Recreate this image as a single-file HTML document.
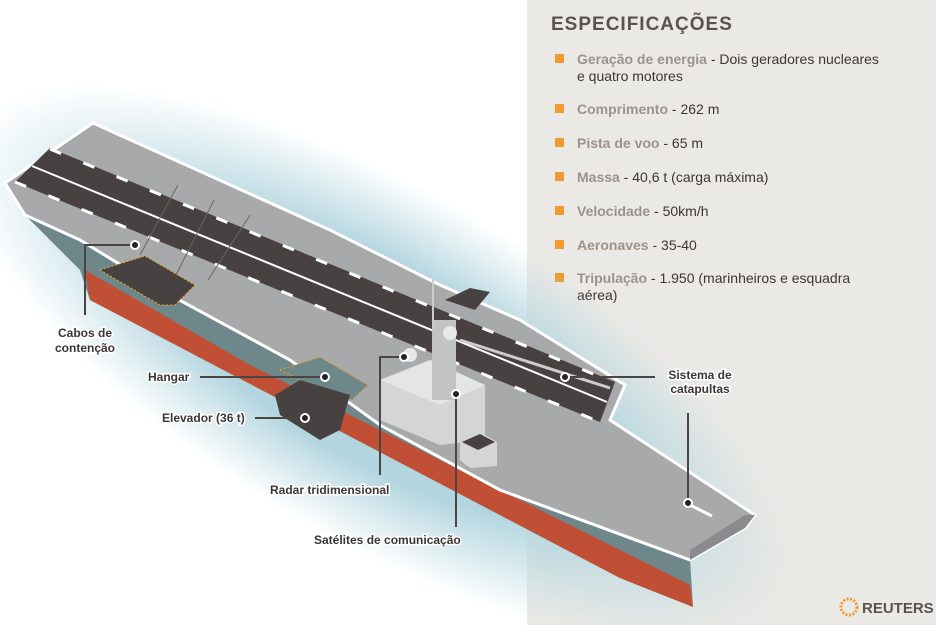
<!DOCTYPE html>
<html><head><meta charset="utf-8"><style>
body{margin:0;width:936px;height:625px;overflow:hidden;background:#fff;font-family:"Liberation Sans",Arial,sans-serif}
#p{position:absolute;left:527px;top:0;width:409px;height:625px;background:#ebe9e5}
h1{position:absolute;left:24px;top:14px;margin:0;font-size:19px;letter-spacing:1px;color:#5a524d;font-weight:bold}
.it{position:absolute;left:50px;font-size:14px;color:#3b3634;line-height:17px;width:305px}
.it b{color:#9c9289}
.it:before{content:"";position:absolute;left:-22px;top:3px;width:9px;height:9px;background:#f29a2e}
svg{position:absolute;left:0;top:0}
.lb{font-size:12px;font-weight:bold;fill:#3b3634;stroke:#fff;stroke-width:3px;paint-order:stroke}
</style></head><body>
<div id="p">
<h1>ESPECIFICAÇÕES</h1>
<div class="it" style="top:51px"><b>Geração de energia</b> - Dois geradores nucleares e quatro motores</div>
<div class="it" style="top:101px"><b>Comprimento</b> - 262 m</div>
<div class="it" style="top:135px"><b>Pista de voo</b> - 65 m</div>
<div class="it" style="top:169px"><b>Massa</b> - 40,6 t (carga máxima)</div>
<div class="it" style="top:203px"><b>Velocidade</b> - 50km/h</div>
<div class="it" style="top:237px"><b>Aeronaves</b> - 35-40</div>
<div class="it" style="top:270px;width:290px"><b>Tripulação</b> - 1.950 (marinheiros e esquadra aérea)</div>
</div>
<svg width="936" height="625" viewBox="0 0 936 625">
<defs><radialGradient id="w" cx="0.5" cy="0.5" r="0.5"><stop offset="0.55" stop-color="#b3d5df"/><stop offset="1" stop-color="#b9d9e2" stop-opacity="0"/></radialGradient></defs>
<ellipse cx="380" cy="365" rx="470" ry="175" transform="rotate(30 380 365)" fill="url(#w)"/>
<!-- hull -->
<polygon points="25,215 80,240 690,560 693,607 620,578 90,300 80,270" fill="#6e878b"/>
<polygon points="85,270 250,365 690,585 693,607 620,578 90,300" fill="#c14f35"/>
<!-- deck -->
<polygon points="5,183 93,123 330,230 440,285 520,320 625,385 610,420 755,515 745,528 690,560 500,490 380,425 290,360 170,295 80,240 25,215" fill="#a8a9ab" stroke="#fff" stroke-width="3"/>
<polygon points="745,515 755,515 745,528 690,560 690,550" fill="#8a8b8d"/>
<!-- runway -->
<polygon points="50,148 615,382 600,422 15,182" fill="#474241"/>
<line x1="32" y1="166" x2="607" y2="402" stroke="#fff" stroke-width="2"/>
<line x1="50" y1="149" x2="615" y2="383" stroke="#fff" stroke-width="3" stroke-dasharray="12 24"/>
<line x1="15" y1="182" x2="600" y2="422" stroke="#fff" stroke-width="3" stroke-dasharray="12 24"/>
<line x1="460" y1="340" x2="610" y2="388" stroke="#ccc" stroke-width="3"/>
<line x1="178" y1="185" x2="140" y2="255" stroke="#666"/>
<line x1="214" y1="200" x2="176" y2="275" stroke="#666"/>
<line x1="250" y1="215" x2="208" y2="280" stroke="#666"/>
<line x1="690" y1="505" x2="712" y2="516" stroke="#fff" stroke-width="3"/>
<!-- elevators -->
<polygon points="100,270 145,256 195,285 175,305 160,305" fill="#474241" stroke="#f2a11c" stroke-dasharray="2 2"/>
<polygon points="280,370 320,357 368,385 352,400 300,380" fill="#6e878b" stroke="#f2a11c" stroke-dasharray="2 2"/>
<polygon points="275,395 300,380 350,395 340,430 320,440 280,415" fill="#474241"/>
<!-- island -->
<polygon points="380,380 430,360 485,385 485,440 440,445 380,420" fill="#d4d5d6"/>
<polygon points="380,380 430,360 485,385 440,405" fill="#e4e5e6"/>
<rect x="432" y="320" width="24" height="80" fill="#c2c3c4"/>
<circle cx="450" cy="333" r="7" fill="#e8e8e8"/>
<circle cx="410" cy="355" r="7" fill="#e8e8e8"/>
<polygon points="460,440 480,432 497,442 497,466 470,468 460,460" fill="#d4d5d6"/>
<polygon points="462,442 480,434 495,442 478,450" fill="#474241"/>
<line x1="433" y1="280" x2="433" y2="330" stroke="#ccc" stroke-width="2"/>
<polygon points="445,300 470,288 490,292 475,310" fill="#474241"/>
<!-- leaders -->
<g stroke="#4a4442" stroke-width="2" fill="none">
<polyline points="135,245 85,245 85,315"/>
<line x1="200" y1="377" x2="325" y2="377"/>
<line x1="255" y1="418" x2="305" y2="418"/>
<polyline points="404,357 380,357 380,475"/>
<line x1="456" y1="394" x2="456" y2="527"/>
<line x1="565" y1="377" x2="655" y2="377"/>
<line x1="688" y1="413" x2="688" y2="503"/>
</g>
<g fill="#222" stroke="#fff" stroke-width="2">
<circle cx="135" cy="245" r="4"/><circle cx="325" cy="377" r="4"/><circle cx="305" cy="418" r="4"/>
<circle cx="404" cy="357" r="4"/><circle cx="456" cy="394" r="4"/><circle cx="565" cy="377" r="4"/><circle cx="688" cy="503" r="4"/>
</g>
<text class="lb" x="85" y="337" text-anchor="middle">Cabos de</text>
<text class="lb" x="85" y="352" text-anchor="middle">contenção</text>
<text class="lb" x="148" y="381">Hangar</text>
<text class="lb" x="162" y="422">Elevador (36 t)</text>
<text class="lb" x="270" y="494">Radar tridimensional</text>
<text class="lb" x="314" y="544">Satélites de comunicação</text>
<text class="lb" x="700" y="379" text-anchor="middle">Sistema de</text>
<text class="lb" x="700" y="393" text-anchor="middle">catapultas</text>
<circle cx="849" cy="607" r="8" fill="none" stroke="#f29a2e" stroke-width="3" stroke-dasharray="2 1.5"/>
<text x="862" y="613" font-size="15" font-weight="bold" fill="#5a524d">REUTERS</text>
</svg>
</body></html>
